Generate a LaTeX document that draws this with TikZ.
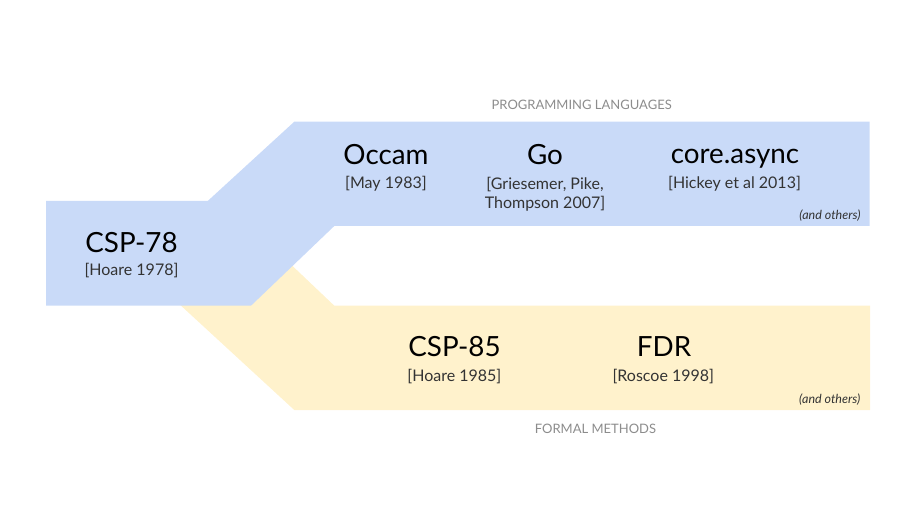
\documentclass[tikz,border=0pt]{standalone}
\usepackage{fontspec}
\setmainfont{Lato}
\definecolor{bandblue}{HTML}{C9DAF8}
\definecolor{bandyellow}{HTML}{FFF2CC}
\definecolor{citegray}{HTML}{333333}
\definecolor{headgray}{HTML}{8C8C8C}
\tikzset{
  title/.style={anchor=base, inner sep=0pt, text=black, font=\fontsize{27.8}{30}\selectfont},
  cite/.style={anchor=base, inner sep=0pt, text=citegray, font=\fontsize{16}{19}\selectfont, align=center},
  head/.style={anchor=base, inner sep=0pt, text=headgray, font=\fontsize{13}{14}\selectfont},
  others/.style={anchor=base east, inner sep=0pt, text=citegray, font=\itshape\fontsize{12.5}{13}\selectfont},
}
\begin{document}
\begin{tikzpicture}[x=1pt,y=-1pt]
\useasboundingbox (0,0) rectangle (900,505);
% yellow band (behind)
\fill[bandyellow] (120.5,250) -- (294.3,410) -- (870,410) -- (870,305.7) -- (334.3,305.7) -- (275.7,250) -- cycle;
% blue band
\fill[bandblue] (46,201) -- (207.7,201) -- (294.3,121.7) -- (869.5,121.7) -- (869.5,226) -- (334.3,226) -- (251,305.7) -- (46,305.7) -- cycle;
% headers
\node[head] (hpl) at (581.7,109.3) {PROGRAMMING LANGUAGES};
\node[head] (hfm) at (595.5,433.3) {FORMAL METHODS};
% CSP-78
\node[title] (csp78) at (131.5,252.7) {CSP-78};
\node[cite] (csp78c) at (131.5,276) {[Hoare 1978]};
% programming languages
\node[title] (occam) at (386,165) {Occam};
\node[cite] (occamc) at (386,189) {[May 1983]};
\node[title] (go) at (545,165) {Go};
\node[cite] (goc) at (545,209) {[Griesemer, Pike,\\Thompson 2007]};
\node[title] (async) at (735,164) {core.async};
\node[cite] (asyncc) at (734.5,189) {[Hickey et al 2013]};
\node[others] (oth1) at (860.7,220) {(and others)};
% formal methods
\node[title] (csp85) at (454.5,356) {CSP-85};
\node[cite] (csp85c) at (454.4,381) {[Hoare 1985]};
\node[title] (fdr) at (664,356) {FDR};
\node[cite] (fdrc) at (663.3,381) {[Roscoe 1998]};
\node[others] (oth2) at (860.5,403) {(and others)};
\end{tikzpicture}
\end{document}
